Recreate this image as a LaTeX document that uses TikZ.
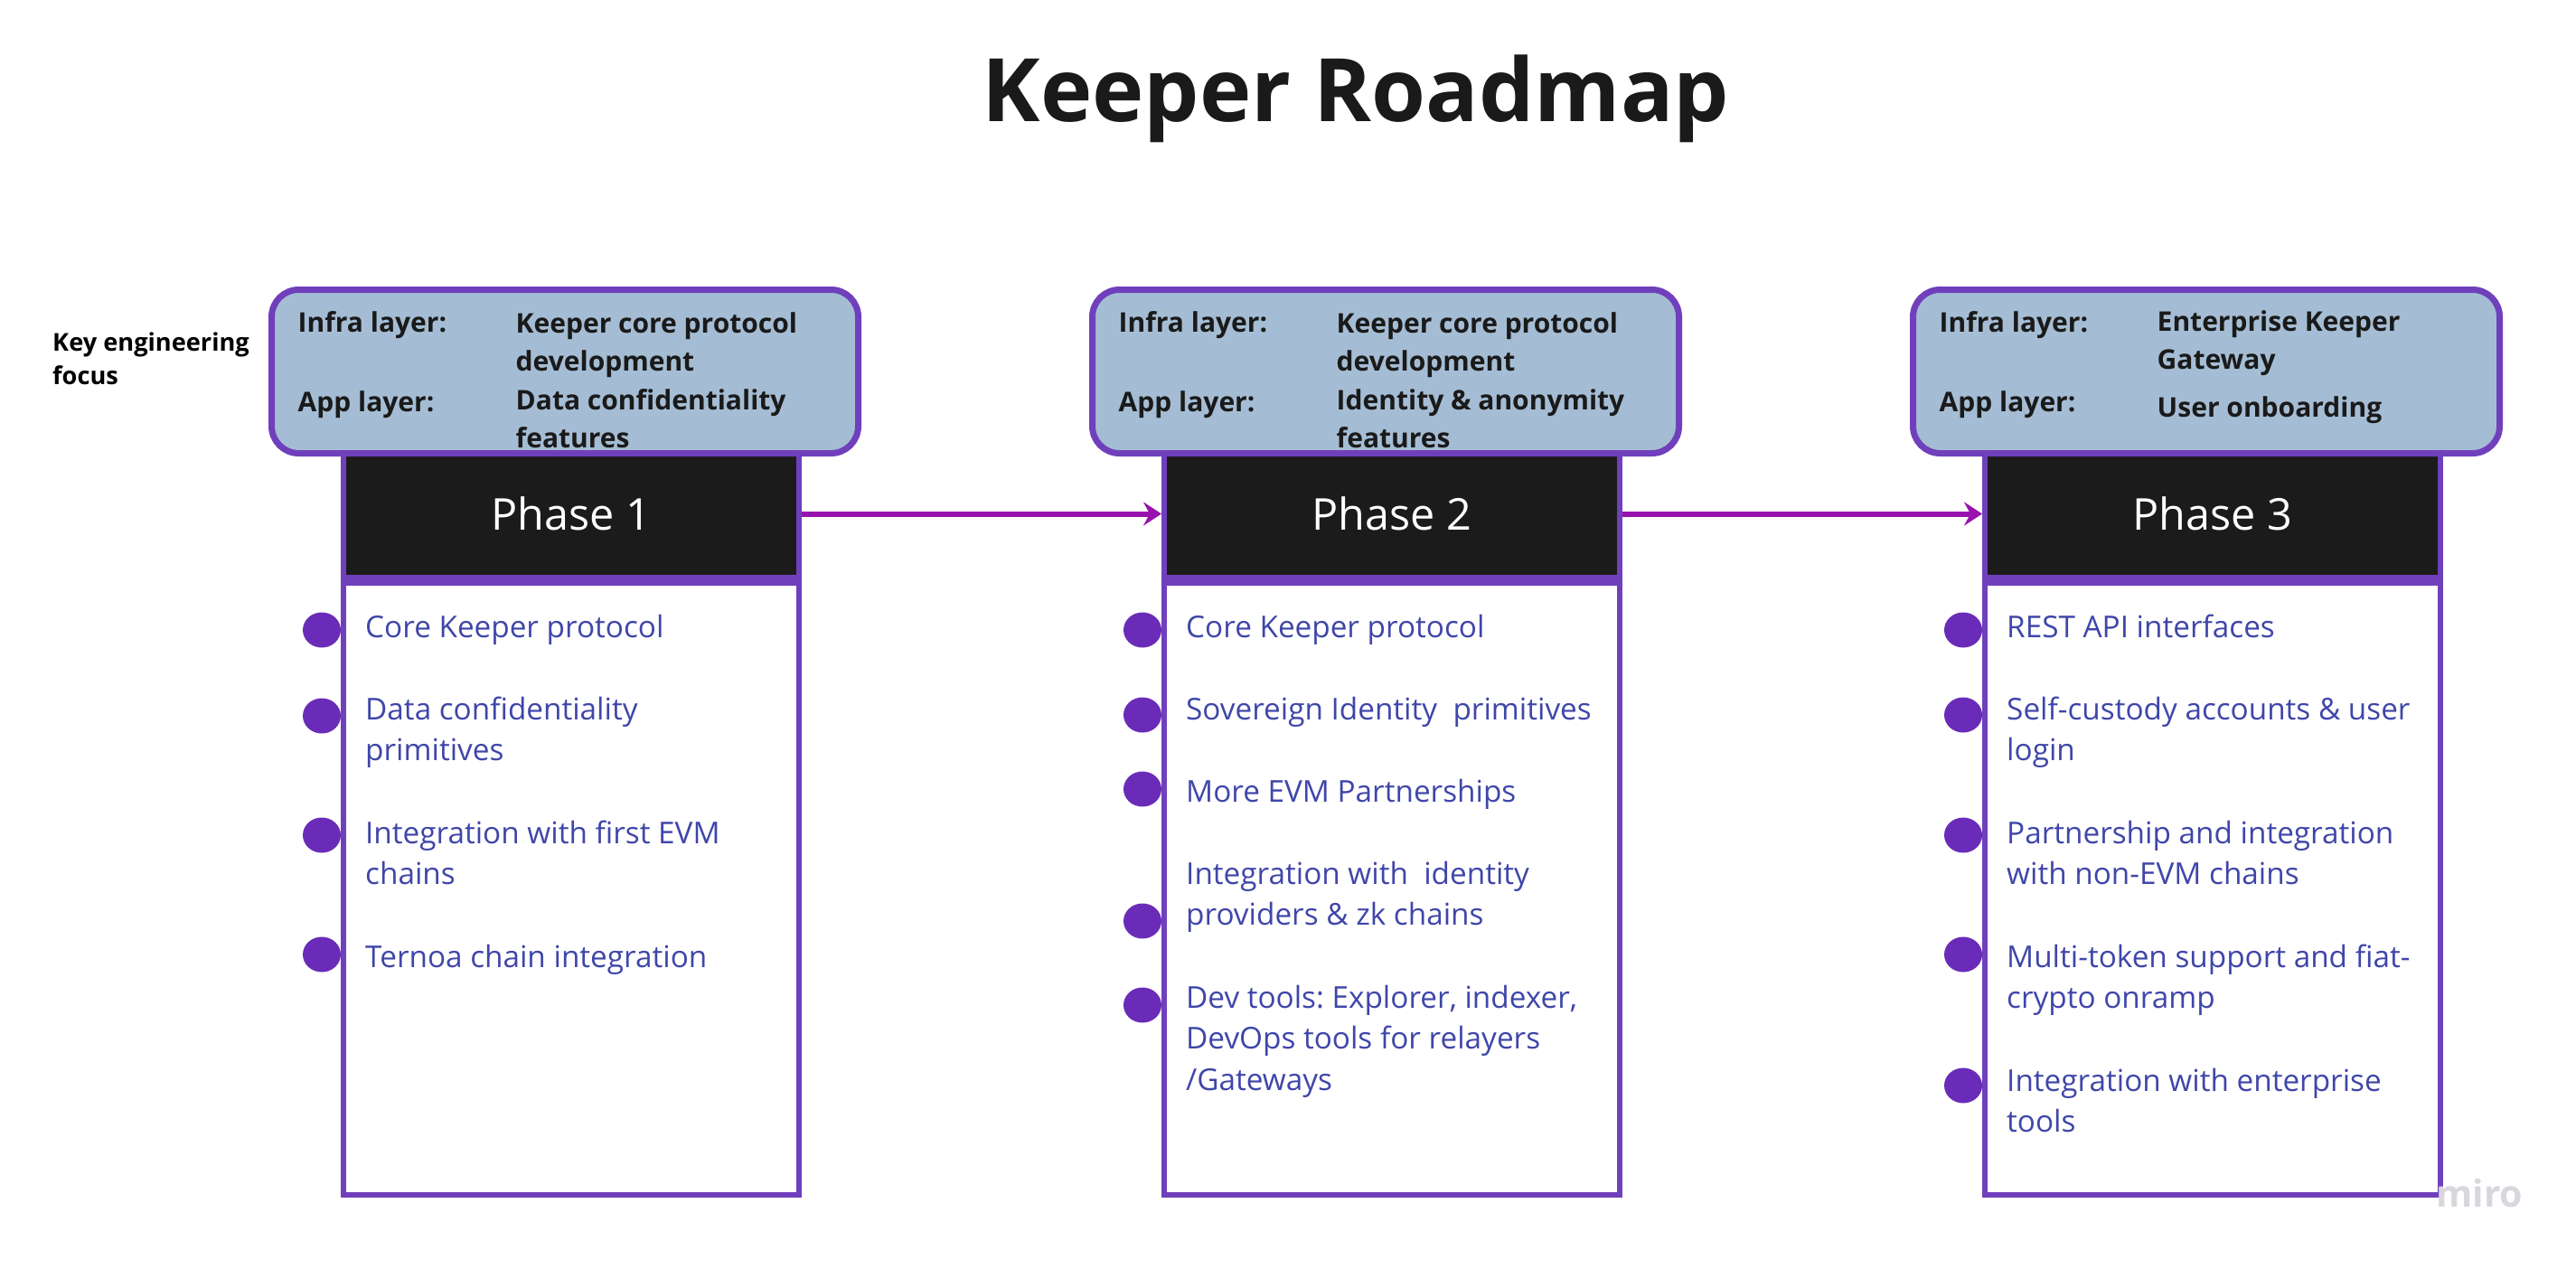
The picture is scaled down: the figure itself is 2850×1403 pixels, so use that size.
\documentclass[tikz,border=0pt]{standalone}
\usepackage{fontspec}
\setmainfont{Open Sans}
\usetikzlibrary{shapes.geometric,arrows.meta}
\frenchspacing
\definecolor{boxpurple}{HTML}{7040BC}
\definecolor{topfill}{HTML}{A5BDD4}
\definecolor{headblack}{HTML}{1B1B1B}
\definecolor{bulletc}{HTML}{6A2CB8}
\definecolor{itemblue}{HTML}{3F46A9}
\definecolor{arrowc}{HTML}{9812AE}
\definecolor{titlec}{HTML}{1A1A1A}
\definecolor{wmark}{HTML}{D8D7DD}
\newcommand{\mlines}[1]{\begin{tabular}[t]{@{}l@{}}#1\end{tabular}}
\begin{document}
\begin{tikzpicture}[x=1pt,y=-1pt,
  topbox/.style={draw=boxpurple, fill=topfill, line width=7pt, rounded corners=30pt, minimum width=649pt, minimum height=181pt, inner sep=0pt},
  phasehead/.style={draw=boxpurple, fill=headblack, line width=6pt, minimum width=504pt, minimum height=141pt, inner sep=0pt, text=white, font=\fontsize{48.5}{58}\selectfont},
  listbox/.style={draw=boxpurple, fill=white, line width=6pt, minimum width=504pt, minimum height=677pt, inner sep=0pt},
  bulletdot/.style={ellipse, fill=bulletc, minimum width=42pt, minimum height=39pt, inner sep=0pt},
  itemtext/.style={anchor=base west, inner sep=0pt, text=itemblue, font=\frenchspacing\fontsize{33.3}{45.5}\selectfont},
  layerlabel/.style={anchor=base west, inner sep=0pt, text=titlec, font=\bfseries\fontsize{30}{42.8}\selectfont},
  flowarrow/.style={draw=arrowc, line width=6pt, -{Stealth[length=20pt,width=26pt,inset=7pt]}},
]
\useasboundingbox (0,0) rectangle (2850,1403);
\fill[white] (0,0) rectangle (2850,1403);

% title
\node[anchor=base, inner sep=0pt, text=titlec, font=\bfseries\fontsize{97}{116}\selectfont] (title) at (1500,134) {Keeper Roadmap};

\node[anchor=base west, inner sep=0pt, text=black, font=\bfseries\fontsize{27.2}{37.5}\selectfont] (focus) at (58,388) {\mlines{Key engineering\\focus}};

% phase headers and list boxes
\node[phasehead] (p1h) at (632,568.5) {Phase 1};
\node[phasehead] (p2h) at (1540,568.5) {Phase 2};
\node[phasehead] (p3h) at (2448,568.5) {Phase 3};

\node[listbox] (p1l) at (632,983.5) {};
\node[listbox] (p2l) at (1540,983.5) {};
\node[listbox] (p3l) at (2448,983.5) {};

% top boxes
\node[topbox] (t1) at (625,411) {};
\node[topbox] (t2) at (1533,411) {};
\node[topbox] (t3) at (2441,411) {};

\node[layerlabel] (t1a) at (329.5,367) {Infra layer:};
\node[layerlabel] (t1b) at (570.5,368) {\mlines{Keeper core protocol\\development}};
\node[layerlabel] (t1c) at (329.5,455) {App layer:};
\node[layerlabel] (t1d) at (570.5,453) {\mlines{Data confidentiality\\features}};

\node[layerlabel] (t2a) at (1237.5,367) {Infra layer:};
\node[layerlabel] (t2b) at (1478.5,368) {\mlines{Keeper core protocol\\development}};
\node[layerlabel] (t2c) at (1237.5,455) {App layer:};
\node[layerlabel] (t2d) at (1478.5,453) {\mlines{Identity \& anonymity\\features}};

\node[layerlabel] (t3a) at (2145.5,367) {Infra layer:};
\node[layerlabel] (t3b) at (2386.5,366) {\mlines{Enterprise Keeper\\Gateway}};
\node[layerlabel] (t3c) at (2145.5,455) {App layer:};
\node[layerlabel] (t3d) at (2386.5,461) {User onboarding};

% arrows
\draw[flowarrow] (p1h.east) -- (p2h.west);
\draw[flowarrow] (p2h.east) -- (p3h.west);

% phase 1 items
\node[bulletdot] (b11) at (356,697) {};
\node[bulletdot] (b12) at (356,792) {};
\node[bulletdot] (b13) at (356,924) {};
\node[bulletdot] (b14) at (356,1056) {};
\node[itemtext] (i11) at (404,705) {Core Keeper protocol};
\node[itemtext] (i12) at (404,796) {\mlines{Data confidentiality\\primitives}};
\node[itemtext] (i13) at (404,933) {\mlines{Integration with first EVM\\chains}};
\node[itemtext] (i14) at (404,1070) {Ternoa chain integration};

% phase 2 items
\node[bulletdot] (b21) at (1264,697) {};
\node[bulletdot] (b22) at (1264,791) {};
\node[bulletdot] (b23) at (1264,873) {};
\node[bulletdot] (b24) at (1264,1019) {};
\node[bulletdot] (b25) at (1264,1112) {};
\node[itemtext] (i21) at (1312,705) {Core Keeper protocol};
\node[itemtext] (i22) at (1312,796) {Sovereign Identity~~primitives};
\node[itemtext] (i23) at (1312,887) {More EVM Partnerships};
\node[itemtext] (i24) at (1312,978) {\mlines{Integration with~~identity\\providers \& zk chains}};
\node[itemtext] (i25) at (1312,1115) {\mlines{Dev tools: Explorer, indexer,\\DevOps tools for relayers\\/Gateways}};

% phase 3 items
\node[bulletdot] (b31) at (2172,697) {};
\node[bulletdot] (b32) at (2172,791) {};
\node[bulletdot] (b33) at (2172,924) {};
\node[bulletdot] (b34) at (2172,1056) {};
\node[bulletdot] (b35) at (2172,1201) {};
\node[itemtext] (i31) at (2220,705) {REST API interfaces};
\node[itemtext] (i32) at (2220,796) {\mlines{Self-custody accounts \& user\\login}};
\node[itemtext] (i33) at (2220,933) {\mlines{Partnership and integration\\with non-EVM chains}};
\node[itemtext] (i34) at (2220,1070) {\mlines{Multi-token support and fiat-\\crypto onramp}};
\node[itemtext] (i35) at (2220,1207) {\mlines{Integration with enterprise\\tools}};

% watermark
\node[anchor=base west, inner sep=0pt, text=wmark, font=\bfseries\fontsize{41}{50}\selectfont] (miro) at (2695,1335) {miro};
\end{tikzpicture}
\end{document}
